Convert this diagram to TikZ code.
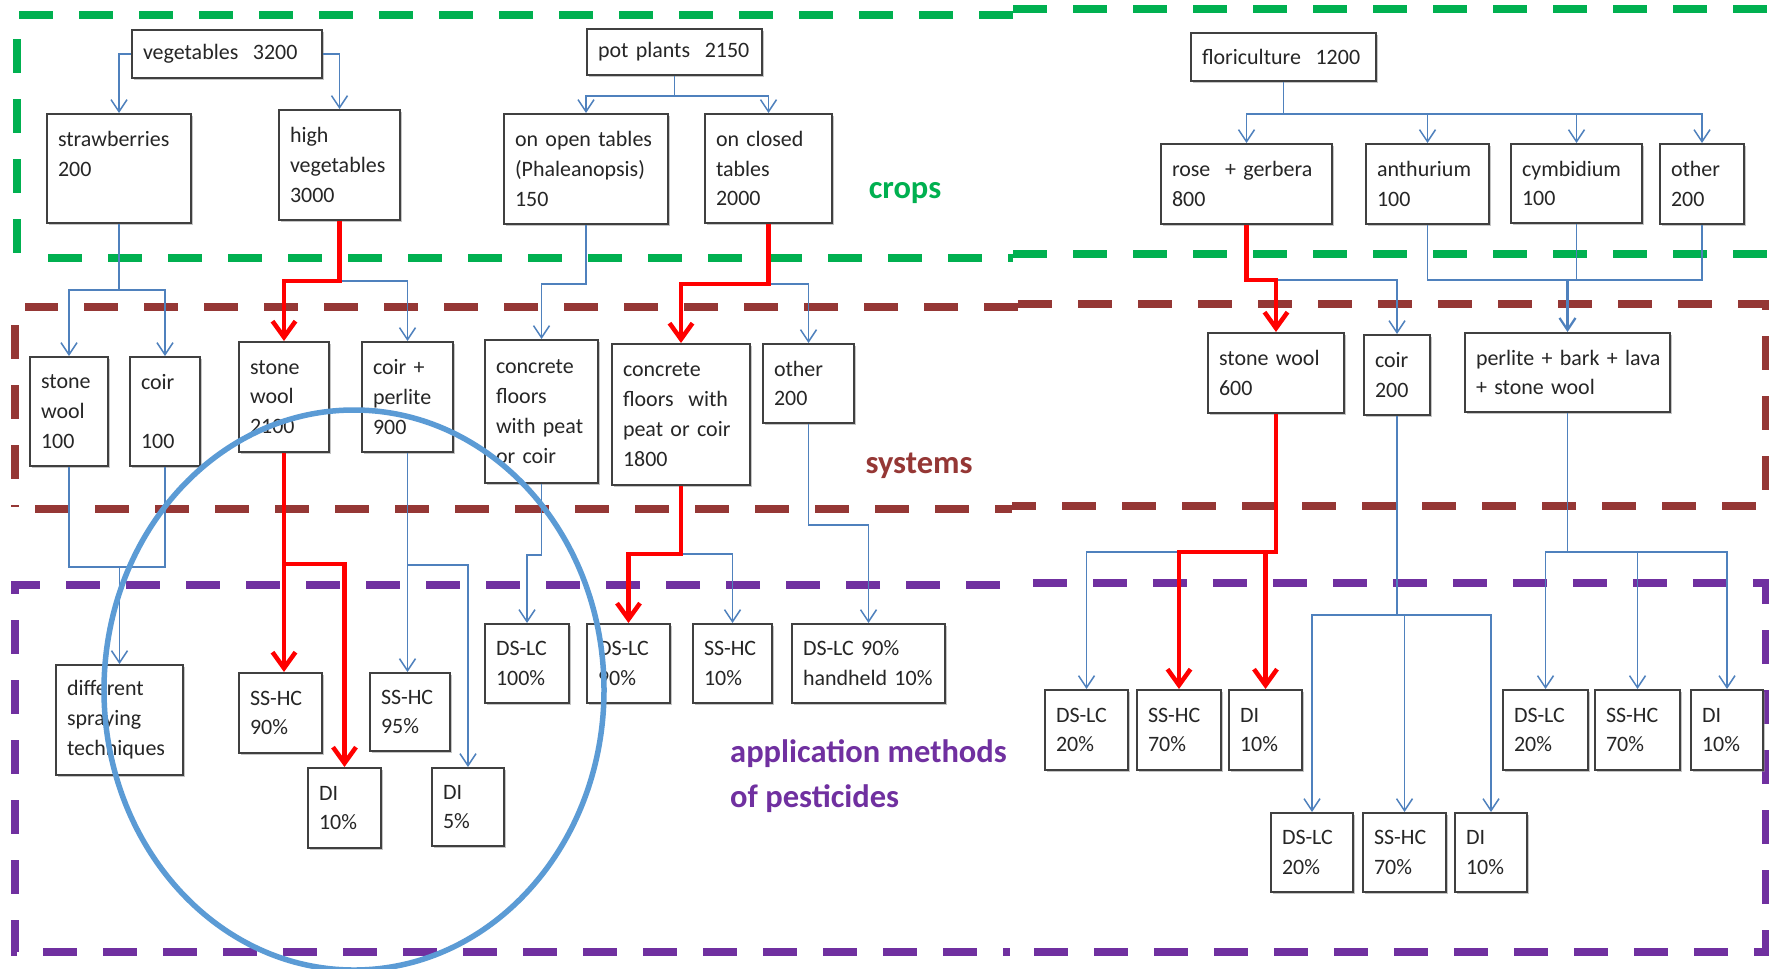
\documentclass[tikz,border=0pt]{standalone}
\usepackage{fontspec}
\setmainfont{Carlito}
\usepackage{tikz}
\usetikzlibrary{arrows.meta,calc,shadows}

\definecolor{cropgreen}{RGB}{0,176,80}
\definecolor{sysbrown}{RGB}{149,55,53}
\definecolor{apppurple}{RGB}{112,48,160}
\definecolor{linkblue}{RGB}{79,129,189}
\definecolor{ringblue}{RGB}{91,155,213}
\definecolor{boxline}{RGB}{64,64,64}

\tikzstyle{box} = [draw=boxline, line width=0.4mm, fill=white, anchor=north west, align=left, inner xsep=2.2mm, inner ysep=0.5mm, text=black!85, font=\fontsize{12.5}{17}\selectfont, drop shadow={shadow xshift=0.3mm, shadow yshift=-0.4mm, fill=black!45, opacity=0.5}]
\tikzset{sz/.style 2 args={text width=#1mm, minimum height=#2mm}}
\tikzstyle{zone} = [line width=1.6mm, dash pattern=on 6.8mm off 5.2mm]
\tikzstyle{link} = [draw=linkblue, line width=0.3mm]
\tikzstyle{conn} = [link, -{Straight Barb[length=2.4mm,width=3.2mm]}]
\tikzstyle{hot} = [draw=red, line width=0.9mm, -{Straight Barb[length=3.2mm,width=4.6mm]}]
\tikzstyle{tag} = [font=\fontsize{18.5}{26}\selectfont\bfseries, align=left]

\begin{document}
\begin{tikzpicture}[x=0.2mm, y=-0.2mm]
	\useasboundingbox (0,0) rectangle (1769,968);
	\fill[white] (0,0) rectangle (1769,968);

	% Rahmen
	\draw[zone, cropgreen] (1013,15) -- (17,15) -- (17,260);
	\draw[zone, cropgreen] (48,258) -- (1013,258);
	\draw[zone, cropgreen] (1013,9) -- (1769,9);
	\draw[zone, cropgreen] (1013,254) -- (1769,254);
	\draw[zone, sysbrown] (1018,307) -- (25,307);
	\draw[zone, sysbrown] (15,325) -- (15,507);
	\draw[zone, sysbrown] (35,509) -- (1012,509);
	\draw[zone, sysbrown] (1018,304) -- (1766,304) -- (1766,506) -- (1012,506);
	\draw[zone, apppurple] (1000,585) -- (15,585) -- (15,952) -- (1010,952);
	\draw[zone, apppurple] (1033,583) -- (1766,583) -- (1766,952) -- (1010,952);

	% Kulturen
	\node[box, sz={33.6}{9.6}] (veg) at (131,29) {vegetables~~3200};
	\node[box, sz={24.4}{21.8}] (straw) at (46,113) {strawberries\\200\\~};
	\node[box, sz={19.8}{22}] (highveg) at (278,109) {high\\vegetables\\3000};
	\node[box, sz={30.6}{9.2}] (pot) at (586,28) {pot~plants~~2150};
	\node[box, sz={28.4}{22}] (open) at (503,113) {on~open~tables\\(Phaleanopsis)\\150};
	\node[box, sz={21}{21.8}] (closed) at (704,113) {on~closed\\tables\\2000};
	\node[box, sz={32.6}{9.6}] (flori) at (1190,32) {floriculture~~1200};
	\node[box, sz={29.8}{16}] (rose) at (1160,143) {rose~~+~gerbera\\800};
	\node[box, sz={20.2}{16}] (anth) at (1365,143) {anthurium\\100};
	\node[box, sz={21.8}{15.8}] (cymb) at (1510,143) {cymbidium\\100};
	\node[box, sz={12.4}{16}] (othr) at (1659,143) {other\\200};

	% Systeme
	\node[box, sz={11.2}{21.8}] (sw1) at (29,356) {stone\\wool\\100};
	\node[box, sz={9.6}{21.8}] (coir1) at (129,356) {coir\\~\\100};
	\node[box, sz={13.6}{22}] (sw2) at (238,341) {stone\\wool\\2100};
	\node[box, sz={13.8}{22}] (cp) at (361,341) {coir~+\\perlite\\900};
	\node[box, sz={18.2}{28.6}] (conc1) at (484,339) {concrete\\floors\\with~peat\\or~coir};
	\node[box, sz={23.2}{28.2}] (conc2) at (611,343) {concrete\\floors~~with\\peat~or~coir\\1800};
	\node[box, sz={13.8}{15.8}] (othr2) at (762,343) {other\\200};
	\node[box, sz={22.8}{16}] (sw3) at (1207,332) {stone~wool\\600};
	\node[box, sz={8.8}{16}] (coir2) at (1363,334) {coir\\200};
	\node[box, sz={36.6}{15.8}] (plb) at (1464,332) {perlite~+~bark~+~lava\\+~stone~wool};

	% Applikationsmethoden
	\node[box, sz={21}{22}] (diff) at (55,664) {different\\spraying\\techniques};
	\node[box, sz={12.2}{16}] (sshc1) at (238,672) {SS-HC\\90\%};
	\node[box, sz={10.2}{16}] (di1) at (307,767) {DI\\10\%};
	\node[box, sz={11.6}{15.6}] (sshc2) at (369,672) {SS-HC\\95\%};
	\node[box, sz={10}{15.6}] (di2) at (431,767) {DI\\5\%};
	\node[box, sz={12.4}{15.8}] (dslc1) at (484,623) {DS-LC\\100\%};
	\node[box, sz={12.2}{15.8}] (dslc2) at (586,623) {DS-LC\\90\%};
	\node[box, sz={11.4}{15.8}] (sshc3) at (692,623) {SS-HC\\10\%};
	\node[box, sz={26.2}{15.8}] (hh) at (791,623) {DS-LC~90\%\\handheld~10\%};
	\node[box, sz={12.2}{16}] (dslc3) at (1044,689) {DS-LC\\20\%};
	\node[box, sz={12.4}{16}] (sshc4) at (1136,689) {SS-HC\\70\%};
	\node[box, sz={10.2}{16}] (di3) at (1228,689) {DI\\10\%};
	\node[box, sz={12}{15.8}] (dslc4) at (1270,812) {DS-LC\\20\%};
	\node[box, sz={12.2}{15.8}] (sshc5) at (1362,812) {SS-HC\\70\%};
	\node[box, sz={10}{15.8}] (di4) at (1454,812) {DI\\10\%};
	\node[box, sz={12.6}{16}] (dslc5) at (1502,689) {DS-LC\\20\%};
	\node[box, sz={12.6}{16}] (sshc6) at (1594,689) {SS-HC\\70\%};
	\node[box, sz={10}{16}] (di5) at (1690,689) {DI\\10\%};

	% Verbindungen Kulturen
	\draw[conn] (veg.west) -| (straw.north);
	\draw[conn] (veg.east) -| (highveg.north);
	\draw[conn] (pot.south) -- ++(0,20) -| (open.north);
	\draw[conn] (pot.south) -- ++(0,20) -| (closed.north);
	\draw[conn] (flori.south) -- ++(0,32) -| (rose.north);
	\draw[conn] (flori.south) -- ++(0,32) -| (anth.north);
	\draw[conn] (flori.south) -- ++(0,32) -| (cymb.north);
	\draw[conn] (flori.south) -- ++(0,32) -| (othr.north);

	% Verbindungen Kulturen - Systeme
	\draw[conn] (straw.south) -- ++(0,66) -| (sw1.north);
	\draw[conn] (straw.south) -- ++(0,66) -| (coir1.north);
	\draw[conn] (highveg.south) -- ++(0,60) -| (cp.north);
	\draw[hot] (highveg.south) -- ++(0,60) -| (sw2.north);
	\draw[conn] (open.south) -- ++(0,59) -| (conc1.north);
	\draw[conn] (closed.south) -- ++(0,60) -| (othr2.north);
	\draw[hot] (closed.south) -- ++(0,60) -| (conc2.north);
	\draw[conn] (rose.south) -- ++(0,55) -| (coir2.north);
	\draw[hot] (rose.south) -- ++(0,55) -| (sw3.north);
	\coordinate (fj) at ($(anth.south)+(0,55)$);
	\draw[link] (anth.south) -- (fj) -| (othr.south);
	\draw[link] (cymb.south) -- (cymb.south |- fj);
	\draw[conn, line width=0.45mm] (plb.north |- fj) -- (plb.north);

	% Verbindungen Systeme - Methoden
	\coordinate (sj) at ($(sw1.south)+(0,100)$);
	\draw[link] (sw1.south) -- (sj) -| (coir1.south);
	\draw[conn] (diff.north |- sj) -- (diff.north);
	\draw[hot] (sw2.south) -- (sw2.south |- sshc1.north);
	\draw[hot] (sw2.south) -- ++(0,111) -| (di1.north);
	\draw[conn] (cp.south) -- (cp.south |- sshc2.north);
	\draw[conn] (cp.south) -- ++(0,112) -| (di2.north);
	\draw[conn] (conc1.south) -- ++(0,71) -| (dslc1.north);
	\draw[conn] (conc2.south) -- ++(0,68) -| (sshc3.north);
	\draw[hot] (conc2.south) -- ++(0,68) -| (dslc2.north);
	\draw[conn] (othr2.south) -- ++(0,101) -| (hh.north);
	\draw[conn] (sw3.south) -- ++(0,138) -| (dslc3.north);
	\draw[hot] (sw3.south) -- ++(0,138) -| (sshc4.north);
	\draw[hot] (sw3.south) -- ++(0,138) -| (di3.north);
	\draw[conn] (coir2.south) -- ++(0,199) -| (dslc4.north);
	\draw[conn] (coir2.south) -- ++(0,199) -| (sshc5.north);
	\draw[conn] (coir2.south) -- ++(0,199) -| (di4.north);
	\draw[conn] (plb.south) -- ++(0,139) -| (dslc5.north);
	\draw[conn] (plb.south) -- ++(0,139) -| (sshc6.north);
	\draw[conn] (plb.south) -- ++(0,139) -| (di5.north);

	% Beschriftung
	\node[tag, cropgreen] (crops) at (905,193) {crops};
	\node[tag, sysbrown] (systems) at (919,466) {systems};
	\node[tag, apppurple, anchor=west] (methods) at (724,776) {application methods\\of pesticides};

	% Markierung
	\draw[ringblue, line width=1.1mm] (354,690) ellipse [x radius=50mm, y radius=56mm];
\end{tikzpicture}
\end{document}
